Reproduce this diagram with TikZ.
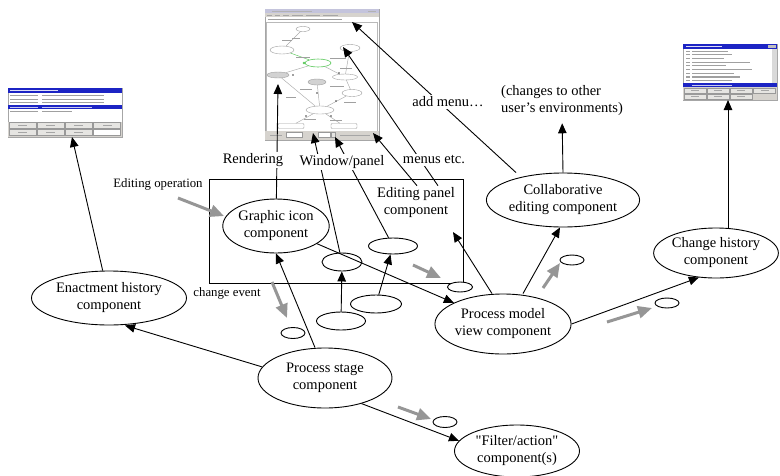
\documentclass[tikz,border=0pt]{standalone}
\usepackage{fontspec}
\setmainfont{Liberation Serif}[Ligatures=TeXOff]
\usetikzlibrary{arrows.meta,shapes.geometric}
\definecolor{evgray}{RGB}{150,150,150}
\definecolor{winblue}{RGB}{28,36,196}
\definecolor{wingray}{RGB}{214,211,206}
\definecolor{titlebar}{RGB}{196,196,220}
\definecolor{txtgray}{RGB}{160,160,160}
\definecolor{selgreen}{RGB}{90,200,90}
\begin{document}
\begin{tikzpicture}[x=1pt,y=-1pt,
  comp/.style={ellipse,draw,line width=0.9pt,fill=white,inner sep=0pt,align=center,
    font=\fontsize{14.5}{17}\selectfont},
  tok/.style={ellipse,draw,line width=0.9pt,fill=white,inner sep=0pt},
  lbl/.style={font=\fontsize{14.5}{17}\selectfont,inner sep=1.5pt,fill=white,align=center},
  small/.style={font=\fontsize{12.8}{15}\selectfont,inner sep=1pt},
  flow/.style={line width=0.9pt,-{Triangle[length=10pt,width=8.5pt]}},
  event/.style={line width=3pt,draw=evgray,-{Triangle[length=14pt,width=12pt,fill=evgray]}},
  shotframe/.style={draw=gray!70,line width=0.5pt,fill=white,inner sep=0pt},
  gnode/.style={ellipse,draw=gray!75,line width=0.4pt,fill=white,inner sep=0pt},
  gline/.style={draw=gray!65,line width=0.45pt},
  btn/.style={draw=gray!80,line width=0.35pt,fill=wingray!60},
]
\useasboundingbox (0,0) rectangle (780,475);
\fill[white] (0,0) rectangle (780,475);

% ---------- enactment history window (top left) ----------
\node[shotframe,minimum width=114,minimum height=49] (shotL) at (65,112.5) {};
\fill[winblue] (8,88) rectangle (122,93);
\fill[white!85!winblue] (10,89.9) rectangle ++(48,1.3);
\foreach \y in {95,98.5,102}{
  \fill[txtgray] (10,\y) rectangle ++(28,1.2);
  \fill[txtgray] (42,\y) rectangle ++(62,1.2);}
\fill[winblue] (8,105) rectangle (122,109);
\fill[white!75!winblue] (10,106.5) rectangle ++(28,1.2);
\fill[white!75!winblue] (42,106.5) rectangle ++(50,1.2);
\fill[txtgray] (10,110.6) rectangle ++(28,1.2);
\fill[txtgray] (42,110.6) rectangle ++(30,1.2);
\fill[wingray] (8,121.5) rectangle (122,137);
\foreach \i in {0,1,2,3}{
  \draw[btn] (9+\i*28.2,122.5) rectangle ++(27,6);
  \fill[gray!70] (18+\i*28.2,125) rectangle ++(9,1);}
\foreach \i in {0,1,2}{
  \draw[btn] (9+\i*28.2,129.5) rectangle ++(27,6);
  \fill[gray!70] (18+\i*28.2,132) rectangle ++(9,1);}
\draw[btn,fill=white] (93.6,129.5) rectangle ++(27,6);

% ---------- process model window (top centre) ----------
\node[shotframe,minimum width=114,minimum height=131] (shotC) at (322,74.5) {};
\fill[titlebar] (265,9) rectangle (379,13);
\fill[gray!60] (272,10.5) rectangle ++(40,1);
\fill[gray!60] (368,10.5) rectangle ++(8,1);
\fill[wingray] (265,13) rectangle (379,17);
\foreach \x/\w in {267/5,275/5,283/6,292/11,306/14,323/15}{
  \fill[gray!70] (\x,14.6) rectangle ++(\w,1);}
\fill[txtgray] (268,19) rectangle ++(74,1.2);
\draw[gray!55,line width=0.4pt] (266,22.5) rectangle (377.5,131);
\fill[wingray] (265,131) rectangle (379,140);
\fill[gray!70] (270,134.8) rectangle ++(12,1.1);
\draw[btn,fill=white] (286,132.5) rectangle ++(16,5);
\draw[btn,fill=white] (318,132.5) rectangle ++(12,5);
\draw[btn] (331,132.5) rectangle ++(4,5);
\fill[gray!70] (340,134.8) rectangle ++(30,1.1);
% graph inside the editing panel
\node[gnode,minimum width=14,minimum height=5] (c1) at (303,29) {};
\node[gnode,minimum width=24,minimum height=8] (c2) at (282,50) {};
\node[gnode,draw=selgreen,line width=0.6pt,minimum width=26,minimum height=8] (c3) at (318,63) {};
\node[gnode,minimum width=20,minimum height=7] (c4) at (350,48) {};
\node[gnode,fill=gray!35,minimum width=22,minimum height=6] (c5) at (278,75) {};
\node[gnode,fill=gray!35,minimum width=18,minimum height=6] (c6) at (317,82) {};
\node[gnode,minimum width=25,minimum height=6] (c7) at (345,77) {};
\node[gnode,minimum width=20,minimum height=7] (c8) at (352,93) {};
\node[gnode,minimum width=28,minimum height=8] (c9) at (320,110) {};
\node[draw=gray!75,line width=0.4pt,fill=white,inner sep=0pt,minimum width=26,minimum height=5,rounded corners=1pt] (r1) at (291,126) {};
\node[draw=gray!75,line width=0.4pt,fill=white,inner sep=0pt,minimum width=26,minimum height=5,rounded corners=1pt] (r2) at (344,126) {};
\draw[gline] (c1) -- (c2);
\draw[gline,draw=selgreen] (c2) -- (c3);
\draw[gline] (c3) -- (c5);
\draw[gline] (c3) -- (c7);
\draw[gline] (c4) -- (c7);
\draw[gline] (c7) -- (c8);
\draw[gline] (c5) -- (c9);
\draw[gline] (c6) -- (c9);
\draw[gline] (c8) -- (c9);
\draw[gline] (c9) -- (r1);
\draw[gline] (c9) -- (r2);
\fill[selgreen] (304,63) circle (1.3);
\foreach \p in {(293,75),(339,73),(317,93),(336,101),(331,116),(306,116)}{
  \fill[gray!50!black] \p circle (0.9);}
\foreach \x/\y/\w in {292/38/8,296/57/14,330/58/16,340/68/12,300/89/12,
  330/86/14,286/97/10,344/102/12,304/119/12,330/120/12,282/40/10}{
  \fill[txtgray] (\x,\y) rectangle ++(\w,1);}

% ---------- change history window (top right) ----------
\node[shotframe,minimum width=94,minimum height=56] (shotR) at (730,72) {};
\fill[winblue] (683,44) rectangle (777,49);
\fill[white!85!winblue] (686,45.9) rectangle ++(36,1.3);
\fill[gray!50] (768,45) rectangle (776,48);
\foreach \y/\w in {50.5/36,54.2/40,57.9/32,61.6/58,65.3/34,69/60,72.7/42,76.4/48,80.1/40}{
  \fill[txtgray] (686,\y) rectangle ++(4,1.1);
  \fill[txtgray] (692,\y) rectangle ++(\w,1.1);}
\fill[gray!30] (772,49) rectangle (777,83);
\fill[winblue] (683,83) rectangle (777,87);
\fill[white!75!winblue] (692,84.5) rectangle ++(40,1.1);
\fill[wingray] (683,87) rectangle (777,100);
\foreach \i in {0,1,2,3}{
  \draw[btn] (684+\i*23.2,88) rectangle ++(22,5);
  \fill[gray!70] (691+\i*23.2,90.2) rectangle ++(8,0.9);}
\foreach \i in {0,1,2}{
  \draw[btn] (684+\i*23.2,94) rectangle ++(22,5);
  \fill[gray!70] (691+\i*23.2,96.2) rectangle ++(8,0.9);}

% ---------- editing panel frame and its contents ----------
\node[draw,line width=0.9pt,inner sep=0pt,minimum width=254,minimum height=104] (panel) at (336,231) {};
\node[font=\fontsize{14.5}{17}\selectfont,align=center,inner sep=2pt] (epc) at (416,203) {Editing panel\\component};

% ---------- components ----------
\node[comp,minimum width=155,minimum height=54] (eh) at (109,298) {Enactment history\\component};
\node[comp,minimum width=100,minimum height=54] (gic) at (276,226) {Graphic icon\\component};
\node[comp,minimum width=134,minimum height=60] (pmv) at (503,324) {Process model\\view component};
\node[comp,minimum width=134,minimum height=60] (ps) at (325,378) {Process stage\\component};
\node[comp,minimum width=125,minimum height=52] (filt) at (517,451) {"Filter/action"\\component(s)};
\node[comp,minimum width=153,minimum height=54] (collab) at (563,200) {Collaborative\\editing component};
\node[comp,minimum width=116,minimum height=50] (ch) at (716,253) {Change history\\component};

% ---------- event tokens ----------
\node[tok,minimum width=40,minimum height=18] (s1) at (342,262) {};
\node[tok,minimum width=49,minimum height=16] (s2) at (393,246) {};
\node[tok,minimum width=51,minimum height=18] (s3) at (376,304) {};
\node[tok,minimum width=49,minimum height=18] (s4) at (341,321) {};
\node[tok,minimum width=25,minimum height=10] (s5) at (460,287) {};
\node[tok,minimum width=24,minimum height=11] (s6) at (293,333) {};
\node[tok,minimum width=24,minimum height=10] (s7) at (572,260) {};
\node[tok,minimum width=24,minimum height=10] (s8) at (667,303) {};
\node[tok,minimum width=24,minimum height=11] (s9) at (445,422) {};

% ---------- text that sits beside connectors ----------
\node[align=left,anchor=west,font=\fontsize{14.5}{17}\selectfont,inner sep=1pt] (chg) at (500,101) {(changes to other\\user’s environments)};
\node[small] (lEdit) at (158,184) {Editing operation};
\node[small] (lEvt) at (227,293) {change event};

% ---------- connector end points on the windows ----------
\coordinate (tipL) at (72,137);
\coordinate (tipR) at (278,84);
\coordinate (tipW1) at (313,133);
\coordinate (tipW2) at (335,137);
\coordinate (tipE1) at (373,133);
\coordinate (tipE2) at (343,47);
\coordinate (tipA) at (352,22);
\coordinate (tipCH) at (728,100);
\coordinate (tipP) at (453,232);

% ---------- black connectors ----------
\draw[flow] (eh) -- (tipL);
\draw[flow] (gic) -- (tipR);
\draw[flow] (s1) -- (tipW1);
\draw[flow] (s2) -- (tipW2);
\draw[flow] (s4) -- (s1);
\draw[flow] (s3) -- (s2);
\draw[flow] ([xshift=1pt]epc.north) -- (tipE1);
\draw[flow] ([xshift=22pt]epc.north) -- (tipE2);
\draw[flow] ([xshift=-47pt]collab.north) -- (tipA);
\draw[flow,shorten >=6pt] (collab.north) -- (chg.south);
\draw[flow] ([xshift=12pt]ch.north) -- (tipCH);
\draw[flow] (ps.170) -- ([xshift=16pt]eh.south);
\draw[flow] ([xshift=-10pt]ps.north) -- (gic.south);
\draw[flow] (gic) -- (pmv);
\draw[flow] ([xshift=-11pt]pmv.north) -- (tipP);
\draw[flow] ([xshift=20pt]pmv.north) -- ([xshift=-3pt]collab.south);
\draw[flow] (pmv.east) -- (ch.235);
\draw[flow] (ps.-35) -- (filt.170);

% ---------- labels laid over their connectors ----------
\node[lbl] (lRend) at (253,160) {Rendering};
\node[lbl] (lWin) at (342,162) {Window/panel};
\node[lbl] (lMenu) at (434,160) {menus etc.};
\node[lbl] (lAdd) at (448,102) {add menu…};

% ---------- grey event arrows ----------
\coordinate (g1a) at (178,198); \coordinate (g1b) at (224,216);
\coordinate (g2a) at (272,282); \coordinate (g2b) at (287,318);
\coordinate (g3a) at (413,265); \coordinate (g3b) at (441,278);
\coordinate (g4a) at (543,288); \coordinate (g4b) at (560,263);
\coordinate (g5a) at (607,322); \coordinate (g5b) at (652,308);
\coordinate (g6a) at (398,407); \coordinate (g6b) at (431,419);
\draw[event] (g1a) -- (g1b);
\draw[event] (g2a) -- (g2b);
\draw[event] (g3a) -- (g3b);
\draw[event] (g4a) -- (g4b);
\draw[event] (g5a) -- (g5b);
\draw[event] (g6a) -- (g6b);
\end{tikzpicture}
\end{document}
